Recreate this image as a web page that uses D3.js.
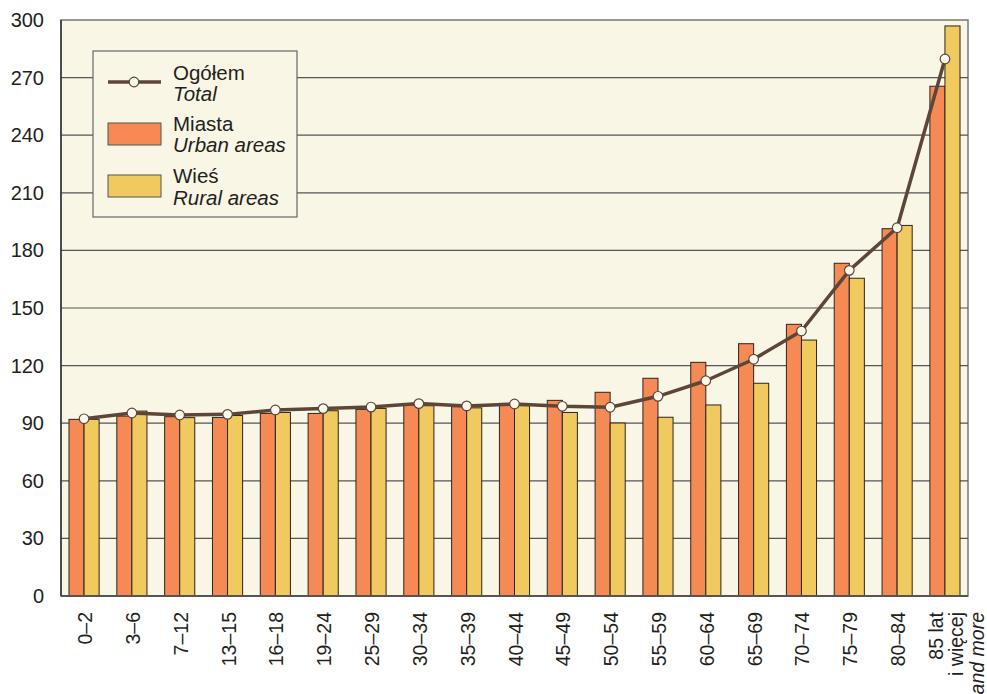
<!DOCTYPE html>
<html>
<head>
<meta charset="utf-8">
<script src="https://cdn.jsdelivr.net/npm/d3@7"></script>
<style>
  body { margin: 0; background: #fff; }
  svg { display: block; font-family: "Liberation Sans", Arial, sans-serif; }
</style>
</head>
<body>
<svg id="chart" width="987" height="694"></svg>
<script>
var ageGroups = ['0–2','3–6','7–12','13–15','16–18','19–24','25–29','30–34','35–39','40–44',
  '45–49','50–54','55–59','60–64','65–69','70–74','75–79','80–84','85+'];
var urbanValues = [92, 93.7, 93.4, 93, 95.1, 95.1, 97.2, 99.5, 98.6, 100.3,
  101.9, 106.1, 113.4, 121.7, 131.4, 141.5, 173.3, 191.3, 265.5];
var ruralValues = [92, 96.3, 92.9, 94, 95.6, 96.5, 97.7, 99.1, 98, 99.1,
  95.6, 90.1, 93.1, 99.5, 110.8, 133.3, 165.5, 193, 296.9];
var totalValues = [92.3, 95.3, 94.3, 94.6, 96.9, 97.6, 98.4, 100.2, 99, 100,
  98.8, 98.3, 104, 112.1, 123.3, 138, 169.6, 191.8, 279.7];
var yTicks = [0, 30, 60, 90, 120, 150, 180, 210, 240, 270, 300];
var lastLabelLines = ['85 lat', 'i więcej', 'and more'];

var URBAN_COLOR = '#f58a55';
var RURAL_COLOR = '#f0c95f';
var LINE_COLOR = '#5d4638';
var BG_COLOR = '#f9f6e5';

var plotLeft = 61, plotRight = 968, plotTop = 20, plotBottom = 596;

var svg = d3.select('#chart');

var x = d3.scaleBand().domain(ageGroups).range([plotLeft, plotRight])
  .paddingInner(0.37).paddingOuter(0.167);
var x1 = d3.scaleBand().domain(['urban', 'rural']).range([0, x.bandwidth()]);
var y = d3.scaleLinear().domain([0, 300]).range([plotBottom, plotTop]);

// plot background
svg.append('rect')
  .attr('x', plotLeft).attr('y', plotTop)
  .attr('width', plotRight - plotLeft).attr('height', plotBottom - plotTop)
  .attr('fill', BG_COLOR)
  .attr('stroke', '#777').attr('stroke-width', 1.5);

// gridlines
svg.append('g').selectAll('line')
  .data(yTicks.filter(function(d) { return d > 0 && d < 300; }))
  .enter().append('line')
  .attr('x1', plotLeft).attr('x2', plotRight)
  .attr('y1', function(d) { return y(d); })
  .attr('y2', function(d) { return y(d); })
  .attr('stroke', '#555').attr('stroke-width', 1.2);

// y tick labels
svg.append('g').selectAll('text')
  .data(yTicks)
  .enter().append('text')
  .attr('x', 44)
  .attr('y', function(d) { return y(d); })
  .attr('dy', '0.35em')
  .attr('text-anchor', 'end')
  .attr('font-size', 20)
  .attr('fill', '#231f20')
  .text(function(d) { return d; });

// bars
var groups = svg.append('g').selectAll('g')
  .data(ageGroups)
  .enter().append('g')
  .attr('transform', function(d) { return 'translate(' + x(d) + ',0)'; });

groups.append('rect')
  .attr('x', x1('urban'))
  .attr('y', function(d, i) { return y(urbanValues[i]); })
  .attr('width', x1.bandwidth())
  .attr('height', function(d, i) { return plotBottom - y(urbanValues[i]); })
  .attr('fill', URBAN_COLOR)
  .attr('stroke', '#2b2422').attr('stroke-width', 1);

groups.append('rect')
  .attr('x', x1('rural'))
  .attr('y', function(d, i) { return y(ruralValues[i]); })
  .attr('width', x1.bandwidth())
  .attr('height', function(d, i) { return plotBottom - y(ruralValues[i]); })
  .attr('fill', RURAL_COLOR)
  .attr('stroke', '#2b2422').attr('stroke-width', 1);

// axis lines
svg.append('line')
  .attr('x1', plotLeft).attr('x2', plotLeft).attr('y1', plotTop).attr('y2', plotBottom)
  .attr('stroke', '#333').attr('stroke-width', 1.5);
svg.append('line')
  .attr('x1', plotLeft).attr('x2', plotRight).attr('y1', plotBottom).attr('y2', plotBottom)
  .attr('stroke', '#555').attr('stroke-width', 2);

// total line
var cx = function(d, i) { return x(ageGroups[i]) + x.bandwidth() / 2; };
var line = d3.line()
  .x(function(d, i) { return cx(d, i); })
  .y(function(d) { return y(d); });

svg.append('path')
  .datum(totalValues)
  .attr('d', line)
  .attr('fill', 'none')
  .attr('stroke', LINE_COLOR)
  .attr('stroke-width', 3.5)
  .attr('stroke-linejoin', 'round');

svg.append('g').selectAll('circle')
  .data(totalValues)
  .enter().append('circle')
  .attr('cx', cx)
  .attr('cy', function(d) { return y(d); })
  .attr('r', 4.8)
  .attr('fill', '#fbf9ee')
  .attr('stroke', LINE_COLOR)
  .attr('stroke-width', 1.2);

// x labels (rotated)
var xl = svg.append('g');
ageGroups.forEach(function(g, i) {
  var xc = x(g) + x.bandwidth() / 2;
  if (i < ageGroups.length - 1) {
    xl.append('text')
      .attr('transform', 'translate(' + (xc + 8) + ',612) rotate(-90)')
      .attr('text-anchor', 'end')
      .attr('font-size', 19.5)
      .attr('fill', '#231f20')
      .text(g);
  } else {
    lastLabelLines.forEach(function(t, j) {
      xl.append('text')
        .attr('transform', 'translate(' + (xc - 2 + j * 20.5) + ',612) rotate(-90)')
        .attr('text-anchor', 'end')
        .attr('font-size', 19.5)
        .attr('font-style', j === 2 ? 'italic' : 'normal')
        .attr('fill', '#231f20')
        .text(t);
    });
  }
});

// legend
var lg = svg.append('g');
lg.append('rect')
  .attr('x', 93).attr('y', 51).attr('width', 204).attr('height', 166)
  .attr('fill', BG_COLOR).attr('stroke', '#666').attr('stroke-width', 1.2);
lg.append('line')
  .attr('x1', 108).attr('x2', 161).attr('y1', 82).attr('y2', 82)
  .attr('stroke', LINE_COLOR).attr('stroke-width', 3.5);
lg.append('circle')
  .attr('cx', 134).attr('cy', 82).attr('r', 4.8)
  .attr('fill', '#fbf9ee').attr('stroke', LINE_COLOR).attr('stroke-width', 1.2);
lg.append('rect')
  .attr('x', 108).attr('y', 123).attr('width', 53).attr('height', 22)
  .attr('fill', URBAN_COLOR).attr('stroke', '#555').attr('stroke-width', 1);
lg.append('rect')
  .attr('x', 108).attr('y', 175).attr('width', 53).attr('height', 22)
  .attr('fill', RURAL_COLOR).attr('stroke', '#555').attr('stroke-width', 1);

var legendText = [
  ['Ogółem', 80, false], ['Total', 101, true],
  ['Miasta', 131, false], ['Urban areas', 152, true],
  ['Wieś', 183, false], ['Rural areas', 205, true]
];
legendText.forEach(function(t) {
  lg.append('text')
    .attr('x', 173).attr('y', t[1])
    .attr('font-size', 20.5)
    .attr('font-style', t[2] ? 'italic' : 'normal')
    .attr('fill', '#231f20')
    .text(t[0]);
});
</script>
</body>
</html>
